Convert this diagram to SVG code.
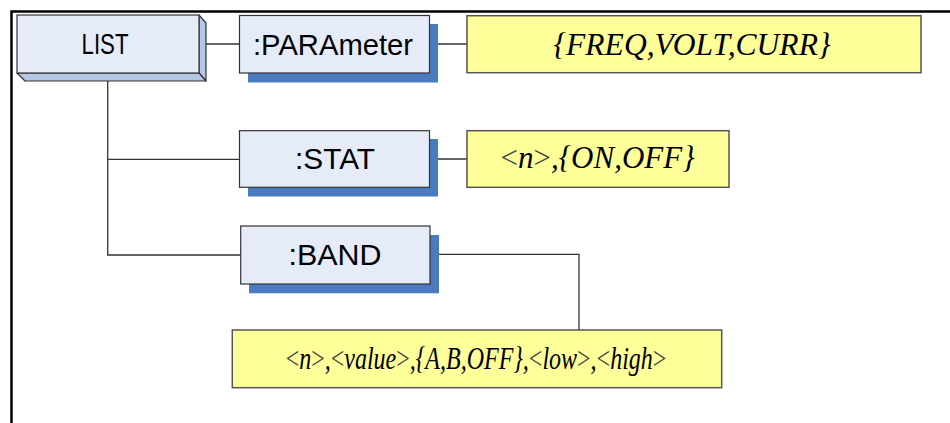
<svg xmlns="http://www.w3.org/2000/svg" width="950" height="423" viewBox="0 0 950 423">
<style>
.frame{stroke:#000;stroke-width:2.5;fill:none}
.wire{stroke:#333;stroke-width:1.3;fill:none}
.face{fill:#e6ecf7;stroke:#333;stroke-width:1.2}
.side{fill:#b4c7e7;stroke:#333;stroke-width:1.2;stroke-linejoin:round}
.shadow{fill:#4a7abf}
.val{fill:#ffff99;stroke:#555;stroke-width:1.5}
.sans{font-family:"Liberation Sans",Arial,sans-serif;font-size:29px;fill:#000;text-anchor:middle}
.serif{font-family:"Liberation Serif","Times New Roman",serif;font-style:italic;fill:#000;text-anchor:middle}
.br{fill:#444;font-style:normal}
</style>
<rect width="950" height="423" fill="#fff"/>
<path class="frame" d="M11.5,423 V11.5 H950"/>
<g id="connectors">
<path class="wire" d="M199,44 H240"/>
<path class="wire" d="M429,44 H467"/>
<path class="wire" d="M107.7,81 V255 H241"/>
<path class="wire" d="M107.7,159.3 H240"/>
<path class="wire" d="M429,159 H467"/>
<path class="wire" d="M430,254.3 H579 V330"/>
</g>
<g id="list">
<polygon class="side" points="199,15 206,23 206,81 199,73"/>
<polygon class="side" points="17,73 25,81 206,81 199,73"/>
<rect class="face" x="17" y="15" width="182" height="58"/>
<text class="sans" x="105" y="53.5" textLength="47" lengthAdjust="spacingAndGlyphs">LIST</text>
</g>
<g id="parameter">
<rect class="shadow" x="248" y="24" width="190" height="58.5"/>
<rect class="face" x="239.5" y="15.5" width="190" height="57.5"/>
<text class="sans" x="333" y="55" textLength="160" lengthAdjust="spacingAndGlyphs">:PARAmeter</text>
</g>
<g id="param-values">
<rect class="val" x="467" y="15.7" width="454" height="57"/>
<text class="serif" x="692" y="55" font-size="31" textLength="277" lengthAdjust="spacingAndGlyphs">{FREQ,VOLT,CURR}</text>
</g>
<g id="stat">
<rect class="shadow" x="248" y="139" width="190" height="57.5"/>
<rect class="face" x="239.5" y="130.7" width="190" height="56.6"/>
<text class="sans" x="335" y="168.5" textLength="80" lengthAdjust="spacingAndGlyphs">:STAT</text>
</g>
<g id="stat-values">
<rect class="val" x="467" y="130.7" width="262" height="56.6"/>
<text class="serif" x="597.5" y="168" font-size="31"><tspan class="br">&lt;</tspan>n<tspan class="br">&gt;</tspan>,{ON,OFF}</text>
</g>
<g id="band">
<rect class="shadow" x="249" y="235" width="190" height="58.3"/>
<rect class="face" x="240.7" y="226" width="189.3" height="58"/>
<text class="sans" x="335" y="265" textLength="93" lengthAdjust="spacingAndGlyphs">:BAND</text>
</g>
<g id="band-values">
<rect class="val" x="232.3" y="330" width="489.4" height="57.7"/>
<text class="serif" transform="translate(476,369) scale(0.75,1)" x="0" y="0" font-size="32"><tspan class="br">&lt;</tspan>n<tspan class="br">&gt;</tspan>,<tspan class="br">&lt;</tspan>value<tspan class="br">&gt;</tspan>,{A,B,OFF},<tspan class="br">&lt;</tspan>low<tspan class="br">&gt;</tspan>,<tspan class="br">&lt;</tspan>high<tspan class="br">&gt;</tspan></text>
</g>
</svg>
